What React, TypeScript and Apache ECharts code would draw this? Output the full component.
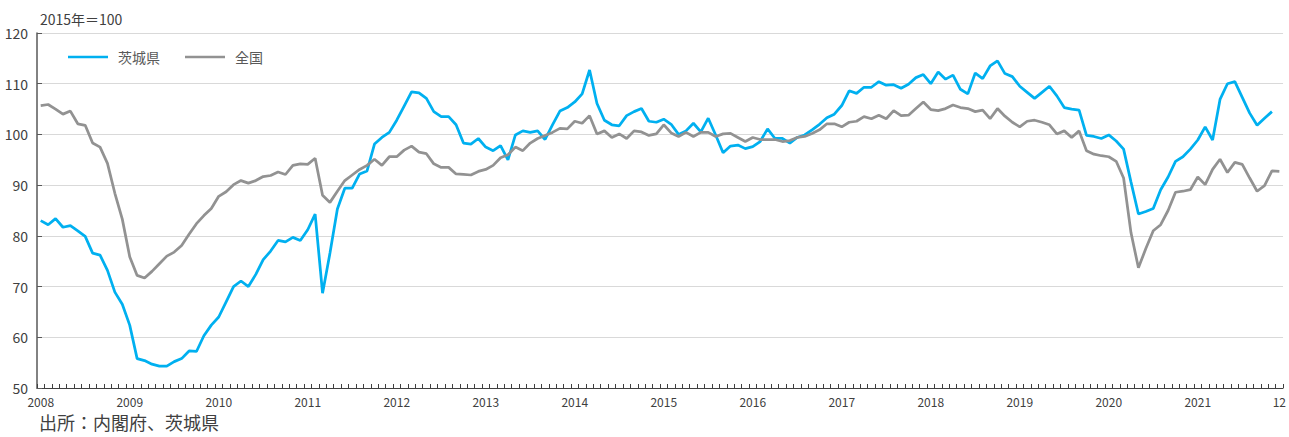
import React, { useEffect, useRef } from "react";
import * as echarts from "echarts";

const years = [2008, 2009, 2010, 2011, 2012, 2013, 2014, 2015, 2016, 2017, 2018, 2019, 2020, 2021];
const months = years.flatMap((y) => Array.from({ length: 12 }, (_, m) => `${y}/${m + 1}`));

const seriesNames = ["茨城県", "全国"];

// 茨城県 (Jan 2008 – Nov 2021)
const ibaraki = [
  83.0, 82.2, 83.4, 81.7, 82.0, 81.0, 79.9, 76.6, 76.2, 73.2, 68.9, 66.5,
  62.4, 55.8, 55.4, 54.7, 54.3, 54.3, 55.2, 55.8, 57.3, 57.2, 60.3, 62.4,
  64.0, 67.0, 70.0, 71.1, 70.0, 72.4, 75.3, 77.0, 79.1, 78.8, 79.7, 79.1,
  81.2, 84.3, 68.7, 76.6, 85.3, 89.4, 89.4, 92.2, 92.8, 98.1, 99.4, 100.4,
  102.8, 105.6, 108.4, 108.2, 107.1, 104.5, 103.5, 103.5, 101.9, 98.3, 98.1, 99.2,
  97.5, 96.8, 97.8, 95.0, 99.9, 100.7, 100.4, 100.7, 99.0, 101.9, 104.6, 105.3,
  106.4, 108.0, 112.7, 106.1, 102.8, 101.9, 101.7, 103.7, 104.5, 105.1, 102.6, 102.4,
  103.0, 102.0, 100.0, 100.7, 102.2, 100.5, 103.2, 99.9, 96.4, 97.7, 97.9, 97.2,
  97.6, 98.6, 101.1, 99.2, 99.2, 98.3, 99.4, 99.9, 100.9, 102.0, 103.3, 104.0,
  105.7, 108.6, 108.1, 109.3, 109.3, 110.4, 109.7, 109.8, 109.1, 109.9, 111.2, 111.8,
  110.0, 112.3, 110.9, 111.7, 108.9, 108.0, 112.1, 111.0, 113.5, 114.5, 112.0, 111.4,
  109.5, 108.3, 107.1, 108.3, 109.5, 107.6, 105.3, 105.0, 104.8, 99.8, 99.6, 99.2,
  99.9, 98.7, 97.1, 90.6, 84.3, 84.8, 85.4, 89.1, 91.6, 94.7, 95.6, 97.1,
  98.9, 101.5, 98.9, 106.9, 110.0, 110.4, 107.3, 104.2, 101.8, 103.2, 104.5,
];

// 全国 (Jan 2008 – Dec 2021)
const national = [
  105.7, 105.9, 105.0, 104.0, 104.6, 102.1, 101.8, 98.3, 97.5, 94.3, 88.4, 83.3,
  75.9, 72.2, 71.7, 73.0, 74.5, 76.0, 76.8, 78.1, 80.3, 82.4, 84.0, 85.4,
  87.8, 88.7, 90.1, 90.9, 90.4, 90.9, 91.7, 91.9, 92.6, 92.1, 93.9, 94.2,
  94.1, 95.3, 88.0, 86.6, 88.8, 90.9, 92.0, 93.1, 93.9, 95.1, 93.9, 95.6,
  95.6, 96.9, 97.7, 96.5, 96.2, 94.2, 93.5, 93.5, 92.2, 92.1, 92.0, 92.7,
  93.1, 93.9, 95.4, 96.0, 97.5, 96.8, 98.3, 99.2, 99.8, 100.4, 101.2, 101.1,
  102.6, 102.2, 103.7, 100.1, 100.7, 99.4, 100.1, 99.2, 100.7, 100.5, 99.8, 100.1,
  101.9, 100.3, 99.6, 100.4, 99.6, 100.4, 100.4, 99.6, 100.1, 100.2, 99.4, 98.6,
  99.4, 99.0, 99.0, 99.0, 98.6, 98.8, 99.4, 99.6, 100.2, 100.9, 102.1, 102.1,
  101.5, 102.4, 102.6, 103.5, 103.1, 103.8, 103.1, 104.7, 103.7, 103.8, 105.1, 106.4,
  104.9, 104.7, 105.1, 105.8, 105.3, 105.1, 104.5, 104.8, 103.1, 105.1, 103.6, 102.4,
  101.5, 102.6, 102.8, 102.4, 101.9, 100.1, 100.7, 99.4, 100.7, 96.8, 96.1, 95.8,
  95.6, 94.7, 91.4, 80.6, 73.7, 77.5, 81.0, 82.2, 85.0, 88.6, 88.8, 89.1,
  91.6, 90.1, 93.1, 95.1, 92.5, 94.5, 94.1, 91.4, 88.8, 89.9, 92.8, 92.7,
];

const unitLabel = "2015年＝100";
const sourceLabel = "出所：内閣府、茨城県";
const lastLabel = "12";

const FONT = "'Noto Sans CJK JP', 'Noto Sans', sans-serif";

export default function App() {
  const ref = useRef<HTMLDivElement>(null);
  useEffect(() => {
    if (!ref.current) return;
    const chart = echarts.init(ref.current, undefined, { renderer: "svg" });
    const lastIdx = months.length - 1;
    chart.setOption({
      animation: false,
      backgroundColor: "#ffffff",
      textStyle: { fontFamily: FONT },
      grid: { left: 37, right: 2, top: 33, height: 355, containLabel: false },
      legend: {
        left: 68,
        top: 50,
        padding: 0,
        icon: "rect",
        itemWidth: 40,
        itemHeight: 2.5,
        itemGap: 25,
        textStyle: { fontSize: 14, color: "#595959", fontFamily: FONT, padding: [0, 0, 0, 5] },
        data: seriesNames,
      },
      xAxis: {
        type: "category",
        data: months,
        boundaryGap: true,
        axisLine: { show: true, lineStyle: { color: "#404040", width: 1 } },
        axisTick: { show: true, inside: true, length: 4, interval: 0, lineStyle: { color: "#404040" } },
        axisLabel: {
          show: true,
          interval: (idx: number) => idx % 12 === 0 || idx === lastIdx,
          formatter: (val: string, idx: number) => (idx === lastIdx ? lastLabel : val.split("/")[0]),
          fontSize: 12,
          color: "#404040",
          margin: 7,
          fontFamily: FONT,
        },
        splitLine: { show: false },
      },
      yAxis: {
        type: "value",
        min: 50,
        max: 120,
        interval: 10,
        axisLine: { show: true, lineStyle: { color: "#595959", width: 1.5 } },
        axisTick: { show: true, inside: true, length: 5, lineStyle: { color: "#595959" } },
        axisLabel: { fontSize: 14, color: "#404040", margin: 9, fontFamily: FONT },
        splitLine: { show: true, lineStyle: { color: "#d9d9d9", width: 1 } },
      },
      series: [
        {
          name: seriesNames[0],
          type: "line",
          data: ibaraki,
          symbol: "none",
          lineStyle: { color: "#00B0F0", width: 2.75 },
          itemStyle: { color: "#00B0F0" },
        },
        {
          name: seriesNames[1],
          type: "line",
          data: national,
          symbol: "none",
          lineStyle: { color: "#929292", width: 2.75 },
          itemStyle: { color: "#929292" },
        },
      ],
      graphic: [
        {
          type: "text",
          left: 40,
          top: 12,
          style: { text: unitLabel, fontSize: 14, fill: "#404040", fontFamily: FONT },
        },
        {
          type: "text",
          left: 39,
          top: 413,
          style: { text: sourceLabel, fontSize: 18, fill: "#404040", fontFamily: FONT },
        },
      ],
    });
    return () => chart.dispose();
  }, []);
  return (
    <div
      ref={ref}
      style={{ position: "fixed", left: 0, top: 0, width: 1289, height: 437, background: "#fff" }}
    />
  );
}
